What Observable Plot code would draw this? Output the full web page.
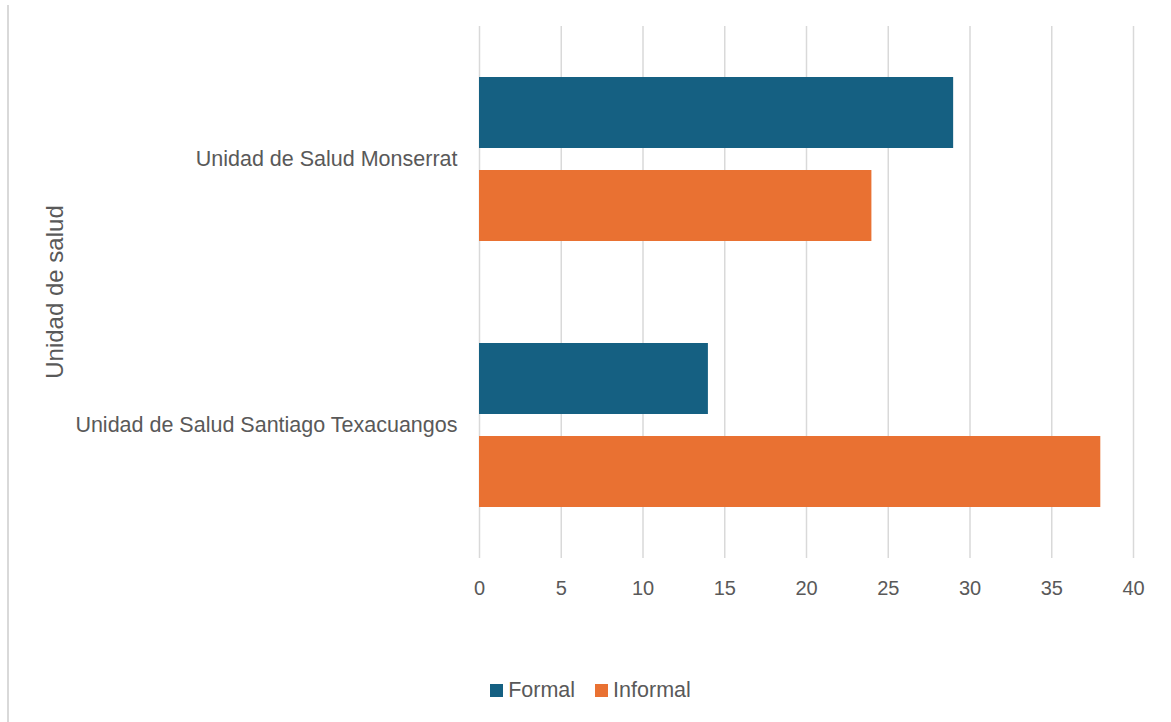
<!DOCTYPE html>
<html>
<head>
<meta charset="utf-8">
<script src="https://cdn.jsdelivr.net/npm/d3@7"></script>
<script src="https://cdn.jsdelivr.net/npm/@observablehq/plot@0.6"></script>
<style>
  html, body { margin: 0; padding: 0; background: #fff; }
  body { width: 1171px; height: 722px; position: relative; overflow: hidden; font-family: "Liberation Sans", Arial, sans-serif; color: #595959; }
  #frame { position: absolute; left: 7px; top: 5px; width: 2px; height: 717px; background: #d9d9d9; }
  #chart { position: absolute; left: 0; top: 0; }
  #ytitle { position: absolute; left: 55px; top: 292px; transform: translate(-50%, -50%) rotate(-90deg); font-size: 24px; white-space: nowrap; color: #595959; }
  #legend { position: absolute; top: 678px; left: 0; width: 1171px; display: flex; justify-content: center; padding-left: 10px; box-sizing: border-box; font-size: 21.5px; color: #595959; }
  .item { display: flex; align-items: center; margin: 0 10px; }
  .sw { width: 13px; height: 13px; margin-right: 5px; }
</style>
</head>
<body>
<div id="frame"></div>
<div id="chart"></div>
<div id="ytitle"></div>
<div id="legend"></div>
<script>
const units = ["Unidad de Salud Monserrat", "Unidad de Salud Santiago Texacuangos"];
const series = ["Formal", "Informal"];
const formalValues = [29, 14];
const informalValues = [24, 38];
const xTicks = [0, 5, 10, 15, 20, 25, 30, 35, 40];
const seriesColors = ["#156082", "#E97132"];
const yTitle = "Unidad de salud";

const data = [];
units.forEach((u, i) => {
  data.push({unit: u, series: series[0], value: formalValues[i]});
  data.push({unit: u, series: series[1], value: informalValues[i]});
});

const chart = Plot.plot({
  width: 1171,
  height: 620,
  marginLeft: 479,
  marginRight: 38,
  marginTop: 25,
  marginBottom: 62,
  style: {fontFamily: "'Liberation Sans', Arial, sans-serif", color: "#595959", background: "transparent"},
  x: {domain: [0, 40], axis: null},
  y: {domain: series, paddingInner: 0.234, paddingOuter: 0.537, axis: null},
  fy: {domain: units, padding: 0, axis: null},
  color: {domain: series, range: seriesColors},
  marks: [
    Plot.ruleX(xTicks, {stroke: "#d9d9d9", strokeWidth: 1.5}),
    Plot.barX(data, {x: "value", y: "series", fy: "unit", fill: "series"}),
    Plot.axisFy({anchor: "left", domain: units, tickSize: 0, tickPadding: 22, fontSize: 21.5, label: null, fill: "#595959"}),
    Plot.axisX({anchor: "bottom", ticks: xTicks, tickSize: 0, tickPadding: 22, fontSize: 20, label: null, fill: "#595959"})
  ]
});
document.getElementById("chart").appendChild(chart);
document.getElementById("ytitle").textContent = yTitle;

const legend = document.getElementById("legend");
series.forEach((s, i) => {
  const item = document.createElement("div");
  item.className = "item";
  const sw = document.createElement("span");
  sw.className = "sw";
  sw.style.background = seriesColors[i];
  const t = document.createElement("span");
  t.textContent = s;
  item.appendChild(sw);
  item.appendChild(t);
  legend.appendChild(item);
});
</script>
</body>
</html>
